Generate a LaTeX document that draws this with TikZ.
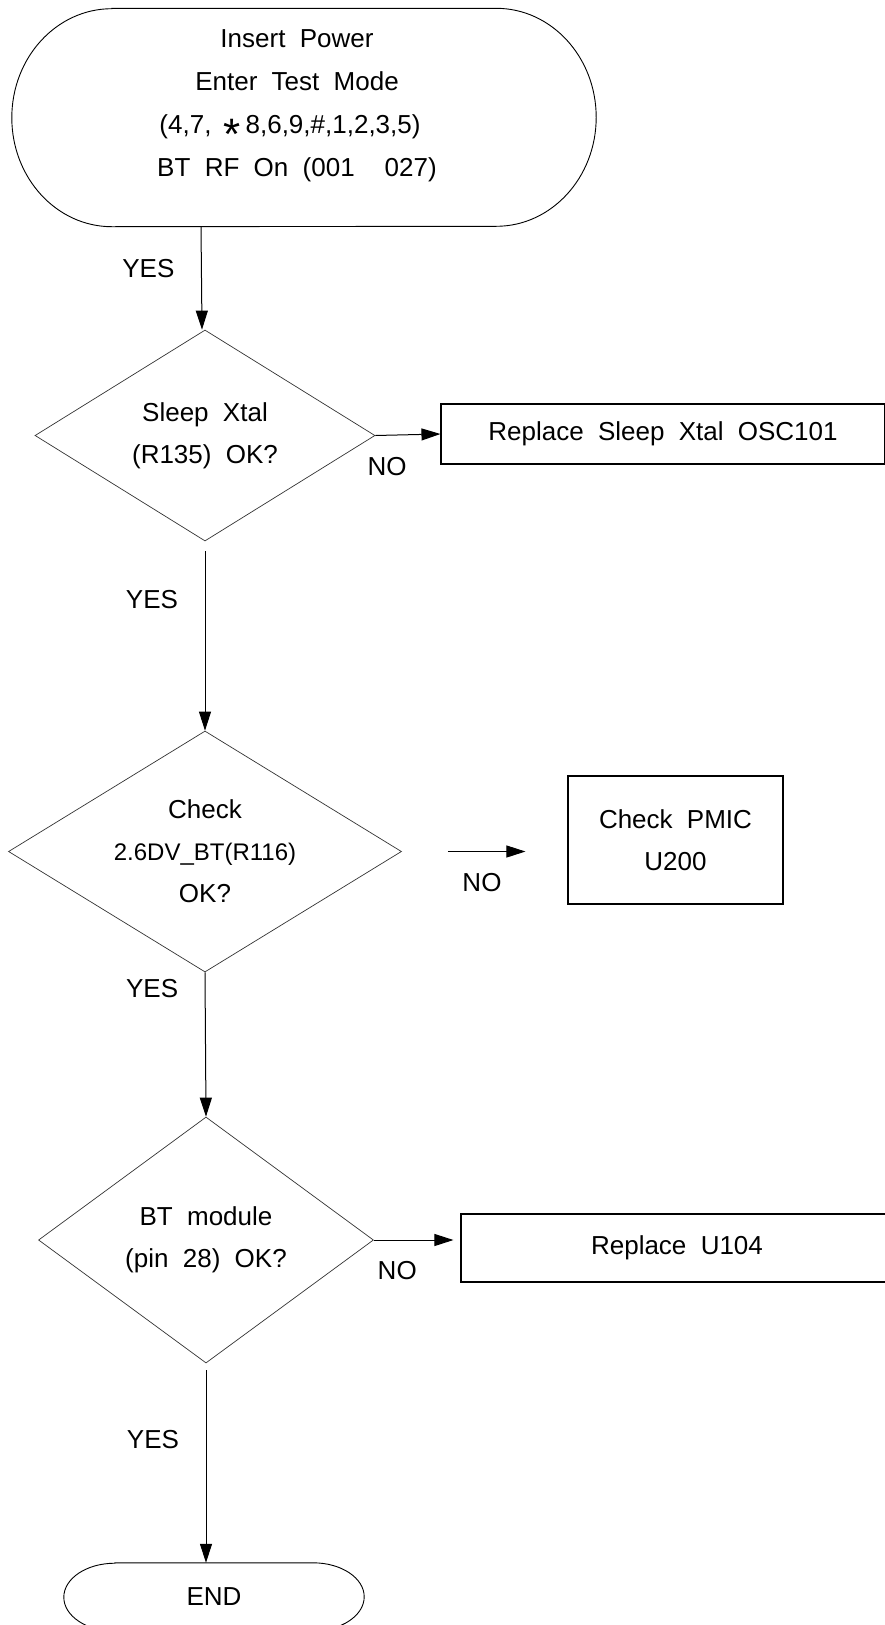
\documentclass[tikz,border=0pt]{standalone}
\usepackage{fontspec}
\setmainfont{Liberation Sans}
\usetikzlibrary{shapes.geometric,arrows.meta,positioning}
\newcommand{\chartfont}{\fontsize{26pt}{42pt}\selectfont\spaceskip=0.55em\relax}
\newcommand{\startfont}{\fontsize{26pt}{43pt}\selectfont\spaceskip=0.55em\relax}
\newcommand{\bigstar}{\raisebox{-16pt}{\fontsize{44pt}{44pt}\selectfont *}}
\tikzset{
    decision/.style={
        diamond,
        aspect=1.63,
        draw=black!80,
        line width=0.7pt,
        inner sep=0pt,
        align=center,
        font=\chartfont
    },
    action/.style={
        rectangle,
        draw,
        line width=1.1pt,
        inner sep=0pt,
        align=center,
        font=\chartfont
    },
    terminal/.style={
        inner sep=0pt,
        font=\chartfont
    },
    outline/.style={line width=0.9pt},
    flow/.style={line width=1pt, -{Triangle[length=19pt,width=12pt]}},
    yeslabel/.style={font=\chartfont, xshift=-53pt},
    nolabel/.style={font=\chartfont, yshift=-31pt}
}
\begin{document}
\begin{tikzpicture}[x=1pt,y=1pt]
                \useasboundingbox (0,0) rectangle (884,-1625);
                % start terminal
                \node[terminal, minimum width=584pt, minimum height=218pt] (start) at (304,-117.5) {};
                \draw[outline] ([xshift=100pt]start.north west) -- ([xshift=-100pt]start.north east)
                    arc[start angle=90, end angle=-90, x radius=100pt, y radius=109pt]
                    -- ([xshift=100pt]start.south west)
                    arc[start angle=270, end angle=90, x radius=100pt, y radius=109pt] -- cycle;
                \node[align=center, font=\startfont] (starttext) at ([xshift=-7pt,yshift=12pt]start.center)
                    {Insert Power\\Enter Test Mode\\(4,7,\hspace{12pt}\bigstar\hspace{5pt}8,6,9,\#,1,2,3,5)\kern14pt\\BT RF On (001\hspace{30pt}027)};
                % checks and repairs
                \node[decision, minimum width=340pt, minimum height=211pt] (sleep) at (205,-435.5) {Sleep Xtal\\(R135) OK?};
                \node[action, minimum width=444pt, minimum height=60pt] (osc) at (663,-434) {Replace Sleep Xtal OSC101};
                \node[decision, minimum width=393pt, minimum height=241pt] (ldo) at (205,-851.5)
                    {Check\\{\fontsize{24pt}{42pt}\selectfont 2.6DV\_BT(R116)}\\OK?};
                \node[action, minimum width=215pt, minimum height=128pt] (pmic) at (675.5,-840) {Check PMIC\\U200};
                \node[decision, minimum width=335pt, minimum height=246pt] (module) at (206,-1240) {BT module\\(pin 28) OK?};
                \node[action, minimum width=432pt, minimum height=68pt] (u104) at (677,-1248) {Replace U104};
                % end terminal
                \node[terminal, minimum width=300pt, minimum height=68pt] (finish) at (214,-1597) {END};
                \draw[outline] ([xshift=51pt]finish.north west) -- ([xshift=-51pt]finish.north east)
                    arc[start angle=90, end angle=-90, x radius=51pt, y radius=34pt]
                    -- ([xshift=51pt]finish.south west)
                    arc[start angle=270, end angle=90, x radius=51pt, y radius=34pt] -- cycle;
                % connectors
                \coordinate (ldoout) at ([xshift=46pt]ldo.east);
                \coordinate (pmicin) at ([xshift=-42pt]pmic.west |- ldo.east);
                \draw[flow] ([xshift=-4pt]start.south -| sleep.north) -- node[yeslabel, pos=.41] {YES} ([xshift=-3pt]sleep.north);
                \draw[flow] (sleep.east) -- node[nolabel, pos=.18] {NO} (osc.west);
                \draw[flow, shorten <=10pt] (sleep.south) -- node[yeslabel, pos=.31] {YES} (ldo.north);
                \draw[flow] (ldoout) -- node[nolabel, pos=.44] {NO} (pmicin);
                \draw[flow] (ldo.south) -- node[yeslabel, pos=.11] {YES} (module.north);
                \draw[flow, shorten >=7pt] (module.east) -- node[nolabel, pos=.27] {NO} (module.east -| u104.west);
                \draw[flow, shorten <=7pt] (module.south) -- node[yeslabel, pos=.38] {YES} (module.south |- finish.north);
            \end{tikzpicture}
\end{document}
